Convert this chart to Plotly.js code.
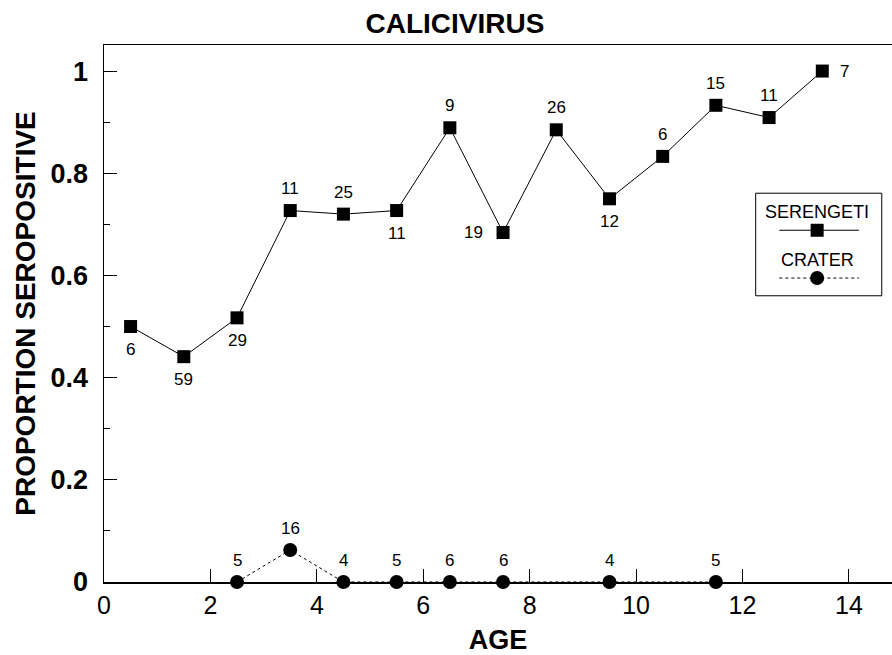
<!DOCTYPE html>
<html>
<head>
<meta charset="utf-8">
<script src="https://cdn.plot.ly/plotly-3.0.1.min.js"></script>
<style>html,body{margin:0;padding:0;background:#fff;}#chart{width:892px;height:655px;}</style>
</head>
<body>
<div id="chart"></div>
<script>
// ---- data ----
const serengetiAge = [0.5, 1.5, 2.5, 3.5, 4.5, 5.5, 6.5, 7.5, 8.5, 9.5, 10.5, 11.5, 12.5, 13.5];
const serengetiProp = [0.5, 0.441, 0.517, 0.727, 0.72, 0.727, 0.889, 0.684, 0.885, 0.75, 0.833, 0.933, 0.909, 1.0];
const serengetiN = [6, 59, 29, 11, 25, 11, 9, 19, 26, 12, 6, 15, 11, 7];

const craterAge = [2.5, 3.5, 4.5, 5.5, 6.5, 7.5, 9.5, 11.5];
const craterProp = [0, 0.0625, 0, 0, 0, 0, 0, 0];
const craterN = [5, 16, 4, 5, 6, 6, 4, 5];

const xTicks = [0, 2, 4, 6, 8, 10, 12, 14];
const yTicks = [0, 0.2, 0.4, 0.6, 0.8, 1];
const yTickLabels = ['0', '0.2', '0.4', '0.6', '0.8', '1'];

// ---- style ----
const serengetiLabelSide = ['below','below','below','above','above','below',
  'above','left','above','below','above','above','above','right'];
const FONT = 'Liberation Sans, Arial, Helvetica, sans-serif';
const labelFont = {family: FONT, size: 17, color: '#000'};
const SHIFT = {above: [0, 22], below: [0, -23], left: [-30, 0], right: [22, 0]};

const traces = [
  {
    x: serengetiAge, y: serengetiProp,
    mode: 'lines+markers', name: 'SERENGETI',
    line: {color: '#000', width: 1},
    marker: {symbol: 'square', size: 13, color: '#000'},
    cliponaxis: false, showlegend: false, hoverinfo: 'skip'
  },
  {
    x: craterAge, y: craterProp,
    mode: 'lines+markers', name: 'CRATER',
    line: {color: '#000', width: 1, dash: 'dot'},
    marker: {symbol: 'circle', size: 14, color: '#000'},
    cliponaxis: false, showlegend: false, hoverinfo: 'skip'
  }
];

// sample-size labels, anchored to data points
const annotations = [];
serengetiAge.forEach((a, i) => {
  const s = SHIFT[serengetiLabelSide[i]];
  annotations.push({xref: 'x', yref: 'y', x: a, y: serengetiProp[i], text: String(serengetiN[i]),
    showarrow: false, xanchor: 'center', yanchor: 'middle', xshift: s[0], yshift: s[1], font: labelFont});
});
craterAge.forEach((a, i) => {
  const s = SHIFT.above;
  annotations.push({xref: 'x', yref: 'y', x: a, y: craterProp[i], text: String(craterN[i]),
    showarrow: false, xanchor: 'center', yanchor: 'middle', xshift: s[0], yshift: s[1], font: labelFont});
});

// custom legend (text above symbol)
const legX = 0.905;
const shapes = [
  {type: 'rect', xref: 'paper', yref: 'paper', x0: 0.827, x1: 0.987, y0: 0.533, y1: 0.724,
   line: {color: '#000', width: 1}, fillcolor: 'rgba(0,0,0,0)'},
  {type: 'line', xref: 'paper', yref: 'paper', x0: 0.857, x1: 0.958, y0: 0.655, y1: 0.655,
   line: {color: '#000', width: 1}},
  {type: 'rect', xref: 'paper', yref: 'paper', xsizemode: 'pixel', ysizemode: 'pixel',
   xanchor: legX, yanchor: 0.655, x0: -6.5, x1: 6.5, y0: -6.5, y1: 6.5,
   line: {width: 0}, fillcolor: '#000'},
  {type: 'line', xref: 'paper', yref: 'paper', x0: 0.857, x1: 0.958, y0: 0.566, y1: 0.566,
   line: {color: '#000', width: 1, dash: 'dot'}},
  {type: 'circle', xref: 'paper', yref: 'paper', xsizemode: 'pixel', ysizemode: 'pixel',
   xanchor: legX, yanchor: 0.566, x0: -7, x1: 7, y0: -7, y1: 7,
   line: {width: 0}, fillcolor: '#000'}
];
annotations.push(
  {xref: 'paper', yref: 'paper', x: legX, y: 0.689, text: 'SERENGETI', showarrow: false,
   xanchor: 'center', yanchor: 'middle', font: {family: FONT, size: 18, color: '#000'}},
  {xref: 'paper', yref: 'paper', x: legX, y: 0.600, text: 'CRATER', showarrow: false,
   xanchor: 'center', yanchor: 'middle', font: {family: FONT, size: 18, color: '#000'}}
);

const layout = {
  width: 892, height: 655,
  margin: {l: 104, r: 0, t: 45, b: 73, pad: 0},
  paper_bgcolor: '#fff', plot_bgcolor: '#fff',
  showlegend: false,
  title: {text: '<b>CALICIVIRUS</b>', xref: 'container', yref: 'container', x: 455/892, y: 1 - 23/655,
          xanchor: 'center', yanchor: 'middle', font: {family: FONT, size: 28, color: '#000'}},
  xaxis: {
    range: [0, 14.81], tickvals: xTicks, ticktext: xTicks.map(String),
    ticks: 'inside', ticklen: 13, tickwidth: 1, tickcolor: '#000',
    showline: true, linecolor: '#000', linewidth: 1.5, mirror: true,
    showgrid: false, zeroline: false, automargin: false,
    tickfont: {family: FONT, size: 25, color: '#000'},
    ticklabelstandoff: 0,
    title: {text: '<b>AGE</b>', font: {family: FONT, size: 27, color: '#000'}, standoff: 19}
  },
  yaxis: {
    range: [0, 1.051], tickvals: yTicks, ticktext: yTickLabels.map(s => '<b>' + s + '</b>'),
    ticks: 'inside', ticklen: 13, tickwidth: 1, tickcolor: '#000',
    minor: {dtick: 0.1, ticks: 'inside', ticklen: 6, tickwidth: 1, tickcolor: '#000', showgrid: false},
    showline: true, linecolor: '#000', linewidth: 1.5, mirror: false,
    showgrid: false, zeroline: false, automargin: false,
    tickfont: {family: FONT, size: 27, color: '#000'},
    ticklabelstandoff: 9,
    title: {text: '<b>PROPORTION SEROPOSITIVE</b>', font: {family: FONT, size: 28, color: '#000'}, standoff: 7}
  },
  shapes: shapes,
  annotations: annotations
};

Plotly.newPlot('chart', traces, layout, {displayModeBar: false, staticPlot: true});
</script>
</body>
</html>
